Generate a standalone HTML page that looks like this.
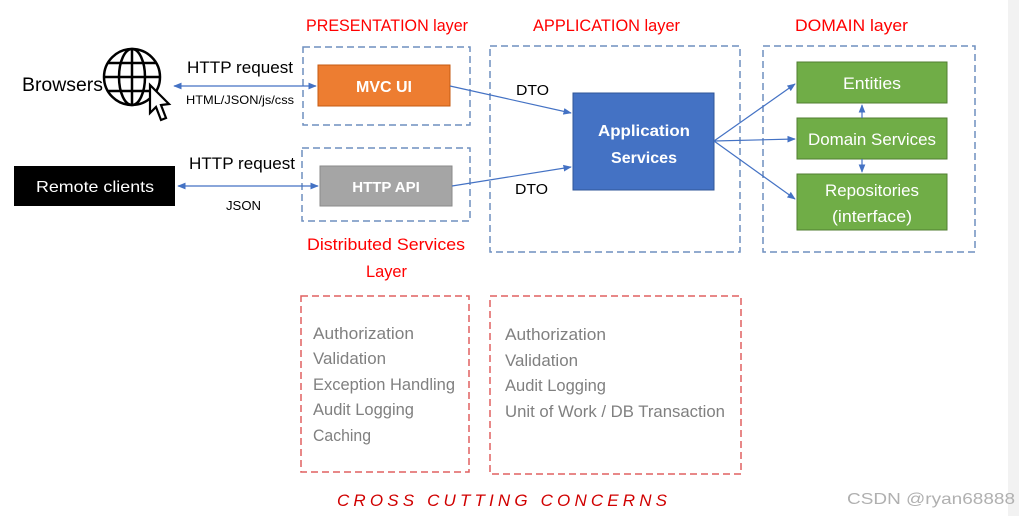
<!DOCTYPE html>
<html><head><meta charset="utf-8"><style>
html,body{margin:0;padding:0;background:#fff;}
svg{display:block;font-family:"Liberation Sans",sans-serif;}
</style></head><body>
<svg width="1019" height="516" viewBox="0 0 1019 516" xmlns="http://www.w3.org/2000/svg">
<defs>
<marker id="a" viewBox="0 0 10 10" refX="9" refY="5" markerWidth="7" markerHeight="7" orient="auto-start-reverse"><path d="M0,1 L10,5 L0,9 z" fill="#4472c4"/></marker>
</defs>
<rect x="1008" y="0" width="11" height="516" fill="#f2f2f2"/>
<g fill="#ff0000" font-size="17">
<text x="306" y="31" textLength="162" lengthAdjust="spacingAndGlyphs">PRESENTATION layer</text>
<text x="533" y="31" textLength="147" lengthAdjust="spacingAndGlyphs">APPLICATION layer</text>
<text x="795" y="31" textLength="113" lengthAdjust="spacingAndGlyphs">DOMAIN layer</text>
<text x="307" y="250" textLength="158" lengthAdjust="spacingAndGlyphs">Distributed Services</text>
<text x="366" y="277" textLength="41" lengthAdjust="spacingAndGlyphs">Layer</text>
</g>
<g fill="none" stroke="#6f8fbf" stroke-width="1.5" stroke-dasharray="7,4">
<rect x="303" y="47" width="167" height="78"/>
<rect x="302" y="148" width="168" height="73"/>
<rect x="490" y="46" width="250" height="206"/>
<rect x="763" y="46" width="212" height="206"/>
</g>
<g fill="none" stroke="#e06060" stroke-width="1.5" stroke-dasharray="7,4">
<rect x="301" y="296" width="168" height="176"/>
<rect x="490" y="296" width="251" height="178"/>
</g>
<rect x="318" y="65" width="132" height="41" fill="#ed7d31" stroke="#c55a11"/>
<text x="384" y="92" fill="#fff" font-size="16" font-weight="bold" text-anchor="middle">MVC UI</text>
<rect x="320" y="166" width="132" height="40" fill="#a5a5a5" stroke="#8a8a8a"/>
<text x="386" y="192" fill="#fff" font-size="15" font-weight="bold" text-anchor="middle">HTTP API</text>
<rect x="14" y="166" width="161" height="40" fill="#000"/>
<text x="95" y="192" fill="#fff" font-size="16" text-anchor="middle" textLength="118" lengthAdjust="spacingAndGlyphs">Remote clients</text>
<rect x="573" y="93" width="141" height="97" fill="#4472c4" stroke="#2f5597"/>
<text x="644" y="136" fill="#fff" font-size="16" font-weight="bold" text-anchor="middle" textLength="92" lengthAdjust="spacingAndGlyphs">Application</text>
<text x="644" y="163" fill="#fff" font-size="16" font-weight="bold" text-anchor="middle" textLength="66" lengthAdjust="spacingAndGlyphs">Services</text>
<g fill="#70ad47" stroke="#507e32">
<rect x="797" y="62" width="150" height="41"/>
<rect x="797" y="118" width="150" height="41"/>
<rect x="797" y="174" width="150" height="56"/>
</g>
<g fill="#fff" font-size="17" text-anchor="middle">
<text x="872" y="89" textLength="58" lengthAdjust="spacingAndGlyphs">Entities</text>
<text x="872" y="145" textLength="128" lengthAdjust="spacingAndGlyphs">Domain Services</text>
<text x="872" y="196" textLength="94" lengthAdjust="spacingAndGlyphs">Repositories</text>
<text x="872" y="222" textLength="80" lengthAdjust="spacingAndGlyphs">(interface)</text>
</g>
<g stroke="#4472c4" stroke-width="1.2" fill="none">
<line x1="174" y1="86" x2="316" y2="86" marker-start="url(#a)" marker-end="url(#a)"/>
<line x1="178" y1="186" x2="318" y2="186" marker-start="url(#a)" marker-end="url(#a)"/>
<line x1="450" y1="86" x2="571" y2="113" marker-end="url(#a)"/>
<line x1="452" y1="186" x2="571" y2="167" marker-end="url(#a)"/>
<line x1="714" y1="141" x2="795" y2="84" marker-end="url(#a)"/>
<line x1="714" y1="141" x2="795" y2="139" marker-end="url(#a)"/>
<line x1="714" y1="141" x2="795" y2="199" marker-end="url(#a)"/>
<line x1="862" y1="118" x2="862" y2="105" marker-end="url(#a)"/>
<line x1="862" y1="159" x2="862" y2="172" marker-end="url(#a)"/>
</g>
<g fill="#000">
<text x="22" y="91" font-size="19" textLength="81" lengthAdjust="spacingAndGlyphs">Browsers</text>
<text x="187" y="73" font-size="17" textLength="106" lengthAdjust="spacingAndGlyphs">HTTP request</text>
<text x="186" y="104" font-size="12" textLength="108" lengthAdjust="spacingAndGlyphs">HTML/JSON/js/css</text>
<text x="189" y="169" font-size="17" textLength="106" lengthAdjust="spacingAndGlyphs">HTTP request</text>
<text x="226" y="210" font-size="13" textLength="35" lengthAdjust="spacingAndGlyphs">JSON</text>
<text x="516" y="95" font-size="15" textLength="33" lengthAdjust="spacingAndGlyphs">DTO</text>
<text x="515" y="194" font-size="15" textLength="33" lengthAdjust="spacingAndGlyphs">DTO</text>
</g>
<g stroke="#000" stroke-width="2.5" fill="none">
<circle cx="132" cy="77" r="28"/>
<ellipse cx="132" cy="77" rx="13" ry="28"/>
<line x1="132" y1="49" x2="132" y2="105"/>
<line x1="104" y1="77" x2="160" y2="77"/>
<line x1="108" y1="63" x2="156" y2="63"/>
<line x1="108" y1="91" x2="156" y2="91"/>
</g>
<path d="M150,85 L150,113 L156,107 L161,120 L166,118 L161,105 L169,104 Z" fill="#fff" stroke="#000" stroke-width="2.2"/>
<g fill="#808080" font-size="17">
<text x="313" y="339" textLength="101" lengthAdjust="spacingAndGlyphs">Authorization</text>
<text x="313" y="364" textLength="73" lengthAdjust="spacingAndGlyphs">Validation</text>
<text x="313" y="390" textLength="142" lengthAdjust="spacingAndGlyphs">Exception Handling</text>
<text x="313" y="415" textLength="101" lengthAdjust="spacingAndGlyphs">Audit Logging</text>
<text x="313" y="441" textLength="58" lengthAdjust="spacingAndGlyphs">Caching</text>
<text x="505" y="340" textLength="101" lengthAdjust="spacingAndGlyphs">Authorization</text>
<text x="505" y="366" textLength="73" lengthAdjust="spacingAndGlyphs">Validation</text>
<text x="505" y="391" textLength="101" lengthAdjust="spacingAndGlyphs">Audit Logging</text>
<text x="505" y="417" textLength="220" lengthAdjust="spacingAndGlyphs">Unit of Work / DB Transaction</text>
</g>
<text x="337" y="506" fill="#d00000" font-size="17" font-style="italic" textLength="330" lengthAdjust="spacing">CROSS  CUTTING  CONCERNS</text>
<text x="847" y="504" fill="#b0b0b0" font-size="16" textLength="168" lengthAdjust="spacingAndGlyphs">CSDN @ryan68888</text>
</svg>
</body></html>
